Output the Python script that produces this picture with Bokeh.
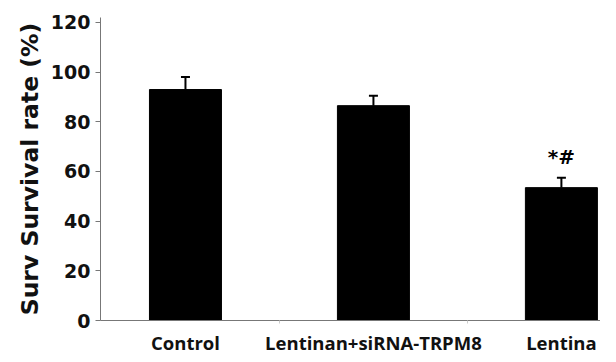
from bokeh.plotting import figure
from bokeh.models import ColumnDataSource, Whisker, TeeHead, FixedTicker, Range1d
from bokeh.core.properties import value
from bokeh.embed import file_html
from bokeh.resources import INLINE

categories = ["Control", "Lentinan+siRNA-TRPM8", "Lentina"]
survival = [93.0, 86.5, 53.5]
errors = [5.0, 4.0, 4.0]
marks = ["", "", "*#"]
y_ticks = [0, 20, 40, 60, 80, 100, 120]

xs = list(range(1, len(categories) + 1))
upper = [v + e for v, e in zip(survival, errors)]
src = ColumnDataSource(dict(x=xs, top=survival, upper=upper, mark=marks))

p = figure(width=600, height=346, output_backend="svg", toolbar_location=None,
           x_range=Range1d(0.548, 3.208), y_range=Range1d(0, 122),
           frame_width=500, frame_height=303,
           min_border_left=100, min_border_right=0, min_border_top=17, min_border_bottom=26)
p.outline_line_color = None
p.grid.grid_line_color = None
p.background_fill_color = "white"
p.border_fill_color = "white"

p.vbar(x="x", top="top", width=0.383, bottom=0, source=src, fill_color="black", line_color="black")
w = Whisker(base="x", lower="top", upper="upper", source=src, line_width=2, line_color="black",
            upper_head=TeeHead(size=9, line_width=2, line_color="black"), lower_head=None)
p.add_layout(w)
p.text(x="x", y="upper", text="mark", source=src, text_align="center", text_baseline="bottom",
       y_offset=-9, text_font=value("DejaVu Sans"), text_font_style="bold", text_font_size="20px",
       text_color="black")

p.yaxis.ticker = FixedTicker(ticks=y_ticks)
p.yaxis.axis_line_color = "#777777"
p.yaxis.major_tick_line_color = "#777777"
p.yaxis.major_tick_out = 5
p.yaxis.major_tick_in = 0
p.yaxis.minor_tick_line_color = None
p.yaxis.major_label_standoff = 5
p.yaxis.major_label_text_font = "DejaVu Sans"
p.yaxis.major_label_text_font_style = "bold"
p.yaxis.major_label_text_font_size = "19px"
p.yaxis.major_label_text_color = "#111111"
p.yaxis.axis_label = "Surv Survival rate (%)"
p.yaxis.axis_label_text_font = "DejaVu Sans"
p.yaxis.axis_label_text_font_style = "bold"
p.yaxis.axis_label_text_font_size = "23.5px"
p.yaxis.axis_label_text_color = "#111111"
p.yaxis.axis_label_standoff = 4

p.xaxis.ticker = FixedTicker(ticks=xs, minor_ticks=[1.5, 2.5])
p.xaxis.major_label_overrides = {x: c for x, c in zip(xs, categories)}
p.xaxis.axis_line_color = "#777777"
p.xaxis.major_tick_line_color = None
p.xaxis.minor_tick_line_color = "#cccccc"
p.xaxis.minor_tick_out = 3
p.xaxis.minor_tick_in = 0
p.xaxis.major_label_standoff = 3
p.xaxis.major_label_text_font = "Open Sans"
p.xaxis.major_label_text_font_style = "bold"
p.xaxis.major_label_text_font_size = "18.5px"
p.xaxis.major_label_text_color = "#111111"

open("out.html", "w").write(file_html(p, INLINE))
